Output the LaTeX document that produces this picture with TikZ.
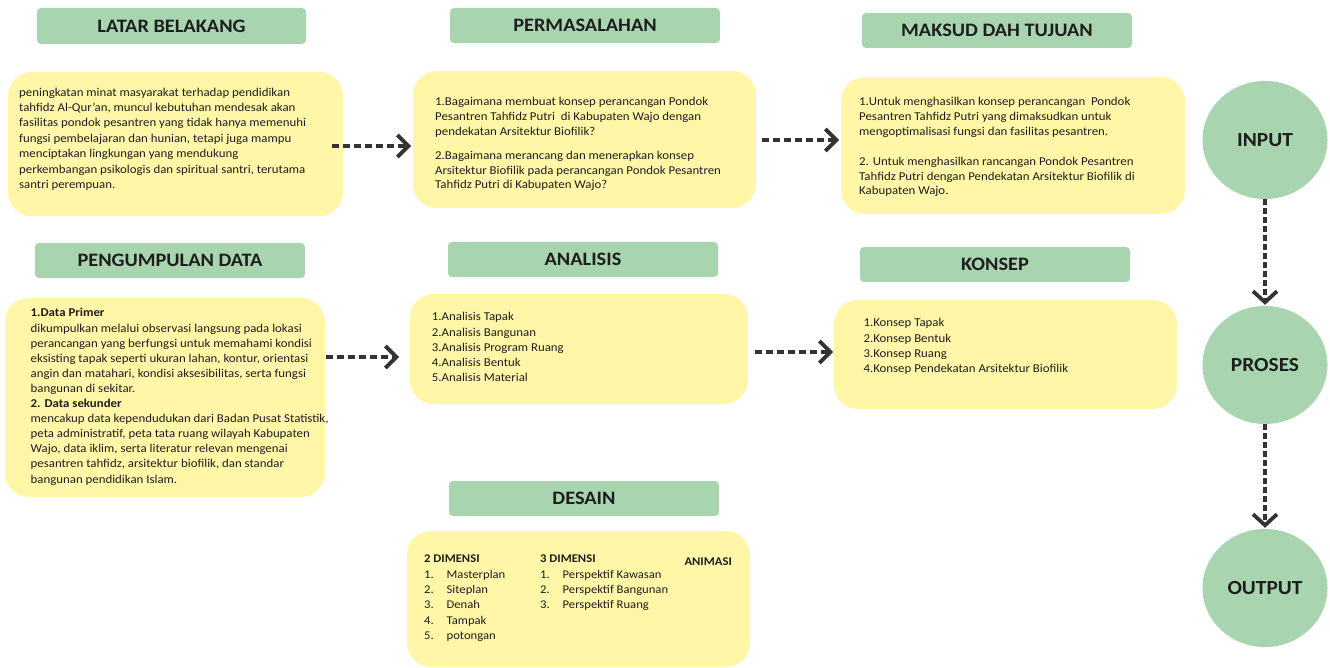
\documentclass[tikz,border=0pt]{standalone}
\usepackage{fontspec}
\setmainfont{Carlito}[FakeStretch=1.07]
\usetikzlibrary{arrows.meta,shapes.geometric}
\definecolor{hdrgreen}{HTML}{A8D5B0}
\definecolor{yelbox}{HTML}{FFF6A8}
\definecolor{ink}{HTML}{1E1E1E}
\definecolor{arrc}{HTML}{333333}
\newcommand\tstrut{\rule{0pt}{10pt}}
\newcommand\nb[1]{\makebox[22.5pt][l]{#1}}
\begin{document}
\begin{tikzpicture}[x=1pt,y=-1pt,
  hdrbox/.style={fill=hdrgreen, rounded corners=4pt, inner sep=0pt, text=ink,
    font=\fontsize{19}{22}\selectfont\bfseries},
  ybox/.style={fill=yelbox, rounded corners=24pt, inner sep=0pt},
  txt/.style={anchor=north west, inner sep=0pt, align=left, text=ink,
    font=\fontsize{12}{15.2}\selectfont},
  circ/.style={ellipse, fill=hdrgreen, minimum width=125pt, minimum height=118pt,
    inner sep=0pt, text=ink, font=\fontsize{20}{22}\selectfont\bfseries},
  flow/.style={draw=arrc, line width=3.8pt, dash pattern=on 7pt off 4pt,
    -{Straight Barb[length=11pt,width=22pt,line width=3.8pt]}},
  vflow/.style={draw=arrc, line width=3.8pt, dash pattern=on 6pt off 3pt,
    -{Straight Barb[length=11pt,width=24pt,line width=3.8pt]}}
]
\useasboundingbox (0,0) rectangle (1330,668);

% headers
\node[hdrbox, minimum width=269pt, minimum height=36pt] (h1) at (171.5,26) {LATAR BELAKANG};
\node[hdrbox, minimum width=270pt, minimum height=35pt] (h2) at (585,25.5) {PERMASALAHAN};
\node[hdrbox, minimum width=270pt, minimum height=35pt] (h3) at (997,30.5) {MAKSUD DAH TUJUAN};
\node[hdrbox, minimum width=270pt, minimum height=35pt] (h4) at (170,260.5) {PENGUMPULAN DATA};
\node[hdrbox, minimum width=270pt, minimum height=35pt] (h5) at (583,259.5) {ANALISIS};
\node[hdrbox, minimum width=270pt, minimum height=35pt] (h6) at (995,264.5) {KONSEP};
\node[hdrbox, minimum width=270pt, minimum height=35pt] (h7) at (584,498.5) {DESAIN};

% yellow boxes
\node[ybox, minimum width=335pt, minimum height=144pt] (b1) at (175.5,144) {};
\node[ybox, minimum width=343pt, minimum height=137pt] (b2) at (584.5,139.5) {};
\node[ybox, minimum width=344pt, minimum height=137pt] (b3) at (1013,145.5) {};
\node[ybox, minimum width=320pt, minimum height=199pt] (b4) at (165,397.5) {};
\node[ybox, minimum width=338pt, minimum height=110pt] (b5) at (579,349) {};
\node[ybox, minimum width=343pt, minimum height=109pt] (b6) at (1005.5,354.5) {};
\node[ybox, minimum width=343pt, minimum height=136pt] (b7) at (578.5,599) {};

% texts
\node[txt, font=\fontsize{12}{15.4}\selectfont] (t1) at (19,86) {\tstrut peningkatan minat masyarakat terhadap pendidikan\\
tahfidz Al-Qur’an, muncul kebutuhan mendesak akan\\
fasilitas pondok pesantren yang tidak hanya memenuhi\\
fungsi pembelajaran dan hunian, tetapi juga mampu\\
menciptakan lingkungan yang mendukung\\
perkembangan psikologis dan spiritual santri, terutama\\
santri perempuan.};

\node[txt, font=\fontsize{12}{14.8}\selectfont] (t2) at (435,95.7) {\tstrut 1.Bagaimana membuat konsep perancangan Pondok\\
Pesantren Tahfidz Putri\ \ di Kabupaten Wajo dengan\\
pendekatan Arsitektur Biofilik?\\[9pt]
2.Bagaimana merancang dan menerapkan konsep\\
Arsitektur Biofilik pada perancangan Pondok Pesantren\\
Tahfidz Putri di Kabupaten Wajo?};

\node[txt, font=\fontsize{12}{14.8}\selectfont] (t3) at (859,95.7) {\tstrut 1.Untuk menghasilkan konsep perancangan\ \ Pondok\\
Pesantren Tahfidz Putri yang dimaksudkan untuk\\
mengoptimalisasi fungsi dan fasilitas pesantren.\\[15pt]
2. Untuk menghasilkan rancangan Pondok Pesantren\\
Tahfidz Putri dengan Pendekatan Arsitektur Biofilik di\\
Kabupaten Wajo.};

\node[txt, font=\fontsize{12}{15.1}\selectfont] (t4) at (30.5,306.7) {\tstrut\textbf{1.Data Primer}\\
dikumpulkan melalui observasi langsung pada lokasi\\
perancangan yang berfungsi untuk memahami kondisi\\
eksisting tapak seperti ukuran lahan, kontur, orientasi\\
angin dan matahari, kondisi aksesibilitas, serta fungsi\\
bangunan di sekitar.\\
\textbf{2. Data sekunder}\\
mencakup data kependudukan dari Badan Pusat Statistik,\\
peta administratif, peta tata ruang wilayah Kabupaten\\
Wajo, data iklim, serta literatur relevan mengenai\\
pesantren tahfidz, arsitektur biofilik, dan standar\\
bangunan pendidikan Islam.};

\node[txt] (t5) at (431.7,310.7) {\tstrut 1.Analisis Tapak\\
2.Analisis Bangunan\\
3.Analisis Program Ruang\\
4.Analisis Bentuk\\
5.Analisis Material};

\node[txt] (t6) at (863.3,316.7) {\tstrut 1.Konsep Tapak\\
2.Konsep Bentuk\\
3.Konsep Ruang\\
4.Konsep Pendekatan Arsitektur Biofilik};

\node[txt, font=\fontsize{11.8}{15.3}\selectfont] (t7a) at (424,552.7) {\tstrut\textbf{2 DIMENSI}\\
\nb{1.}Masterplan\\
\nb{2.}Siteplan\\
\nb{3.}Denah\\
\nb{4.}Tampak\\
\nb{5.}potongan};

\node[txt, font=\fontsize{11.8}{15.3}\selectfont] (t7b) at (540,552.7) {\tstrut\textbf{3 DIMENSI}\\
\nb{1.}Perspektif Kawasan\\
\nb{2.}Perspektif Bangunan\\
\nb{3.}Perspektif Ruang};

\node[txt, font=\fontsize{11.8}{15.3}\selectfont\bfseries] (t7c) at (684.3,555) {\tstrut ANIMASI};

% circles
\node[circ] (e1) at (1265,140) {INPUT};
\node[circ] (e2) at (1265,365) {PROSES};
\node[circ] (e3) at (1265,588) {OUTPUT};

% connectors
\coordinate (a1s) at (332,146);
\coordinate (a1e) at (411,146);
\coordinate (a2s) at (762,140);
\coordinate (a2e) at (839,140);
\coordinate (a3s) at (326,357);
\coordinate (a3e) at (399,357);
\coordinate (a4s) at (755,352);
\coordinate (a4e) at (833,352);
\draw[flow] (a1s) -- (a1e);
\draw[flow] (a2s) -- (a2e);
\draw[flow] (a3s) -- (a3e);
\draw[flow] (a4s) -- (a4e);
\draw[vflow, shorten >=1pt] (e1.south) -- (e2.north);
\draw[vflow, shorten >=1pt] (e2.south) -- (e3.north);
\end{tikzpicture}
\end{document}
